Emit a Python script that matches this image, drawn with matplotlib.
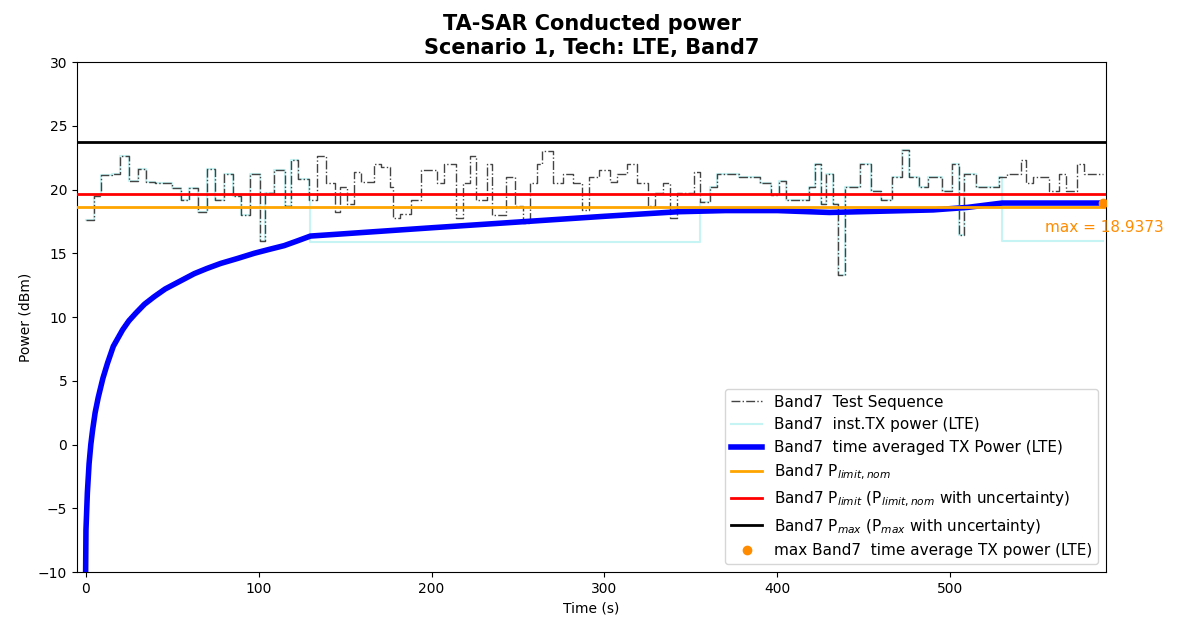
import matplotlib
matplotlib.use("Agg")
from matplotlib import pyplot as plt

# test sequence: step start times (s) and levels (dBm)
seq_t = [0, 5, 9, 15, 20, 25, 30, 35, 40, 50,
         55, 60, 65, 70, 75, 80, 85, 90, 95, 101,
         104, 109, 115, 119, 123, 129, 134, 139, 144, 147,
         151, 155, 159, 167, 171, 176, 178, 182, 188, 194,
         199, 203, 207, 214, 218, 222, 226, 232, 235, 243,
         248, 253, 257, 261, 264, 270, 276, 282, 287, 291,
         297, 300, 303, 307, 313, 319, 325, 329, 334, 338,
         342, 352, 355, 361, 365, 378, 390, 396, 401, 405,
         418, 422, 425, 428, 432, 435, 439, 448, 454, 460,
         466, 472, 476, 482, 487, 495, 501, 505, 508, 515,
         528, 533, 541, 544, 548, 557, 563, 567, 573, 577]
seq_v = [17.6, 19.5, 21.1, 21.2, 22.6, 20.7, 21.6, 20.6, 20.5, 20.1,
         19.2, 20.1, 18.2, 21.6, 19.2, 21.2, 19.5, 18.0, 21.2, 16.0,
         19.7, 21.5, 18.7, 22.3, 20.8, 19.2, 22.6, 20.5, 18.2, 20.2,
         18.9, 21.4, 20.6, 22.0, 21.8, 20.2, 17.8, 18.1, 19.2, 21.5,
         21.5, 20.5, 22.0, 17.8, 20.5, 22.6, 19.2, 22.0, 18.0, 21.0,
         18.7, 17.4, 20.5, 22.0, 23.0, 20.5, 21.2, 20.5, 18.4, 21.0,
         21.5, 21.5, 20.6, 21.2, 22.0, 20.5, 18.7, 19.7, 20.5, 17.8,
         19.7, 21.4, 19.0, 20.2, 21.2, 21.0, 20.5, 19.6, 20.7, 19.2,
         20.2, 22.0, 18.9, 21.2, 18.9, 13.3, 20.2, 22.0, 19.9, 19.2,
         21.0, 23.1, 21.0, 20.2, 21.0, 19.9, 22.0, 16.4, 21.2, 20.2,
         21.0, 21.2, 22.3, 20.5, 21.0, 19.9, 21.2, 19.9, 22.0, 21.2]
t_end = 588

# periods where the instantaneous TX power was backed off
backoff_start = [130, 530]
backoff_end = [355, 588]
backoff_level = [15.9, 16.0]

# time averaged TX power
avg_t = [0, 0.2, 1, 2, 3, 4, 5.5, 7.3, 10, 12.7, 16, 21.4, 25, 29, 34, 39.7, 46,
         53, 62.8, 70, 78, 88, 97.5, 106, 114.8, 122, 130, 200, 250, 300, 343,
         370, 400, 430, 460, 490, 510, 530, 560, 588]
avg_v = [-10, -6.7, -3.8, -1.5, 0, 1.1, 2.5, 3.7, 5.2, 6.4, 7.7, 9.0, 9.7, 10.3,
         11.0, 11.6, 12.2, 12.7, 13.4, 13.8, 14.2, 14.6, 15.0, 15.3, 15.6, 15.95,
         16.35, 17.0, 17.45, 17.9, 18.26, 18.35, 18.35, 18.2, 18.3, 18.4, 18.6,
         18.94, 18.94, 18.94]

p_limit_nom = 18.66
p_limit = 19.65
p_max = 23.7
max_t = 588
max_avg = 18.9373


def level_at(t):
    for s, e, b in zip(backoff_start, backoff_end, backoff_level):
        if s <= t < e:
            return b
    k = max(i for i in range(len(seq_t)) if seq_t[i] <= t)
    return seq_v[k]


fig = plt.figure(figsize=(11.77, 6.24), dpi=100)
ax = fig.add_axes([0.0654, 0.0833, 0.8743, 0.8173])

st = seq_t + [t_end]
sv = seq_v + [seq_v[-1]]
# instantaneous power: sequence with the back-off periods applied
it = sorted(set(seq_t + backoff_start + backoff_end))
iv = [level_at(t) for t in it[:-1]]
iv.append(iv[-1])

ax.step(st, sv, where='post', color='#444444', linestyle='-.', linewidth=1,
        label='Band7  Test Sequence', zorder=3)
ax.step(it, iv, where='post', color='paleturquoise', linewidth=1.5, alpha=0.7,
        label='Band7  inst.TX power (LTE)', zorder=2)
ax.plot(avg_t, avg_v, color='blue', linewidth=4,
        label='Band7  time averaged TX Power (LTE)', zorder=4)
ax.axhline(p_limit_nom, color='orange', linewidth=2,
           label='Band7 P$_{limit,nom}$', zorder=4)
ax.axhline(p_limit, color='red', linewidth=2,
           label='Band7 P$_{limit}$ (P$_{limit,nom}$ with uncertainty)', zorder=4)
ax.axhline(p_max, color='black', linewidth=2,
           label='Band7 P$_{max}$ (P$_{max}$ with uncertainty)', zorder=4)
ax.plot([max_t], [max_avg], 'o', color='darkorange', markersize=6,
        label='max Band7  time average TX power (LTE)', zorder=5)
ax.text(max_t - 33, max_avg - 1.95, 'max = %.4f' % max_avg, color='darkorange',
        fontsize=11, va='center', ha='left')

ax.set_xlim(-5, 590)
ax.set_ylim(-10, 30)
ax.set_xticks([0, 100, 200, 300, 400, 500])
ax.set_xlabel('Time (s)')
ax.set_ylabel('Power (dBm)')
ax.set_title('TA-SAR Conducted power\nScenario 1, Tech: LTE, Band7',
             fontsize=15, fontweight='bold')
ax.legend(loc='lower right', fontsize=11)

fig.savefig('out.png', dpi=100)
